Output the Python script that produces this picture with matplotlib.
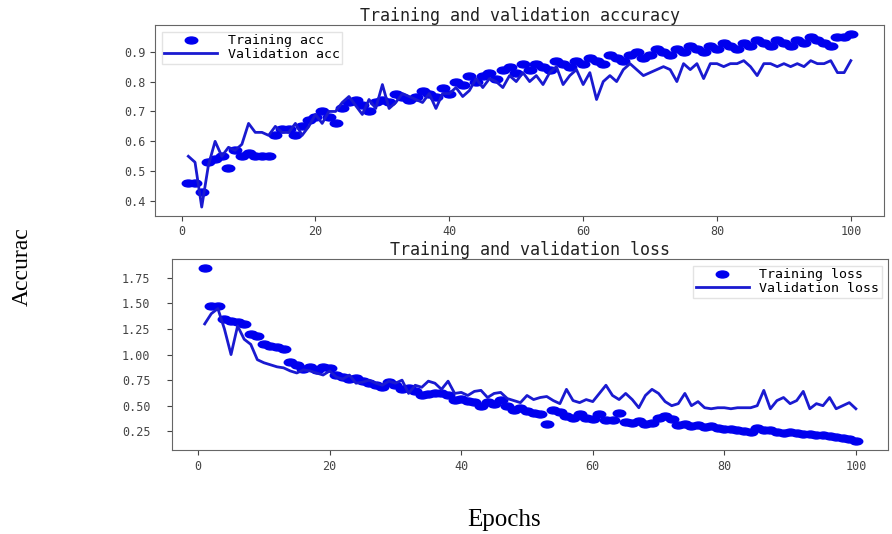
import matplotlib.pyplot as plt
from matplotlib.markers import MarkerStyle
from matplotlib.transforms import Affine2D

epochs = list(range(1, 101))

acc = [0.46, 0.46, 0.43, 0.53, 0.54, 0.55, 0.51, 0.57, 0.55, 0.56,
       0.55, 0.55, 0.55, 0.62, 0.64, 0.64, 0.62, 0.65, 0.67, 0.68,
       0.70, 0.68, 0.66, 0.71, 0.73, 0.74, 0.72, 0.70, 0.73, 0.74,
       0.73, 0.76, 0.75, 0.74, 0.75, 0.77, 0.76, 0.75, 0.78, 0.76,
       0.80, 0.79, 0.82, 0.80, 0.82, 0.83, 0.81, 0.84, 0.85, 0.83,
       0.86, 0.84, 0.86, 0.85, 0.84, 0.87, 0.86, 0.85, 0.87, 0.86,
       0.88, 0.87, 0.86, 0.89, 0.88, 0.87, 0.89, 0.90, 0.88, 0.89,
       0.91, 0.90, 0.89, 0.91, 0.90, 0.92, 0.91, 0.90, 0.92, 0.91,
       0.93, 0.92, 0.91, 0.93, 0.92, 0.94, 0.93, 0.92, 0.94, 0.93,
       0.92, 0.94, 0.93, 0.95, 0.94, 0.93, 0.92, 0.95, 0.95, 0.96]

val_acc = [0.55, 0.53, 0.38, 0.52, 0.60, 0.55, 0.58, 0.57, 0.59, 0.66,
           0.63, 0.63, 0.62, 0.65, 0.63, 0.63, 0.66, 0.62, 0.65, 0.69,
           0.66, 0.70, 0.70, 0.73, 0.75, 0.72, 0.69, 0.74, 0.71, 0.79,
           0.71, 0.73, 0.76, 0.75, 0.74, 0.73, 0.76, 0.71, 0.76, 0.76,
           0.78, 0.75, 0.77, 0.81, 0.78, 0.81, 0.80, 0.78, 0.82, 0.80,
           0.83, 0.80, 0.82, 0.79, 0.83, 0.85, 0.79, 0.82, 0.84, 0.79,
           0.83, 0.74, 0.80, 0.82, 0.80, 0.84, 0.86, 0.84, 0.82, 0.83,
           0.84, 0.85, 0.84, 0.80, 0.86, 0.84, 0.86, 0.81, 0.86, 0.86,
           0.85, 0.86, 0.86, 0.87, 0.85, 0.82, 0.86, 0.86, 0.85, 0.86,
           0.85, 0.86, 0.85, 0.87, 0.86, 0.86, 0.87, 0.83, 0.83, 0.87]

loss = [1.85, 1.48, 1.48, 1.35, 1.33, 1.32, 1.30, 1.20, 1.18, 1.10,
        1.08, 1.07, 1.05, 0.93, 0.90, 0.86, 0.88, 0.85, 0.88, 0.87,
        0.80, 0.78, 0.76, 0.77, 0.74, 0.72, 0.70, 0.68, 0.73, 0.70,
        0.66, 0.67, 0.64, 0.60, 0.61, 0.62, 0.62, 0.60, 0.56, 0.57,
        0.55, 0.54, 0.50, 0.54, 0.52, 0.56, 0.50, 0.46, 0.48, 0.45,
        0.43, 0.42, 0.32, 0.46, 0.44, 0.40, 0.38, 0.42, 0.38, 0.37,
        0.42, 0.36, 0.36, 0.43, 0.34, 0.33, 0.35, 0.32, 0.33, 0.38,
        0.40, 0.37, 0.31, 0.32, 0.30, 0.31, 0.29, 0.30, 0.28, 0.27,
        0.27, 0.26, 0.25, 0.24, 0.28, 0.26, 0.26, 0.24, 0.23, 0.24,
        0.23, 0.22, 0.22, 0.21, 0.21, 0.20, 0.19, 0.18, 0.17, 0.15]

val_loss = [1.30, 1.40, 1.45, 1.25, 1.00, 1.28, 1.15, 1.10, 0.95, 0.92,
            0.90, 0.88, 0.87, 0.84, 0.82, 0.85, 0.84, 0.82, 0.80, 0.84,
            0.78, 0.76, 0.80, 0.72, 0.73, 0.75, 0.72, 0.70, 0.74, 0.72,
            0.75, 0.62, 0.70, 0.68, 0.74, 0.72, 0.66, 0.74, 0.62, 0.63,
            0.60, 0.64, 0.65, 0.58, 0.62, 0.63, 0.57, 0.55, 0.53, 0.60,
            0.56, 0.58, 0.59, 0.55, 0.52, 0.66, 0.55, 0.53, 0.56, 0.54,
            0.62, 0.70, 0.60, 0.56, 0.62, 0.56, 0.48, 0.60, 0.66, 0.62,
            0.54, 0.50, 0.52, 0.62, 0.50, 0.54, 0.48, 0.47, 0.48, 0.48,
            0.47, 0.48, 0.48, 0.48, 0.50, 0.65, 0.47, 0.55, 0.58, 0.52,
            0.55, 0.64, 0.47, 0.52, 0.50, 0.58, 0.47, 0.50, 0.53, 0.47]

# stretched dots like in the original picture
dot = MarkerStyle('o', transform=Affine2D().scale(1.8, 1.0))
mono = 'DejaVu Sans Mono'

fig = plt.figure(figsize=(8.92, 5.34), dpi=100)

ax1 = fig.add_axes([0.174, 0.596, 0.817, 0.357])
ax1.plot(epochs, acc, color='#0000ee', linestyle='none', marker=dot, markersize=5, label='Training acc')
ax1.plot(epochs, val_acc, color='#1a1ad0', linewidth=2, label='Validation acc')
ax1.set_title('Training and validation accuracy', fontsize=12, family=mono, pad=2, color='#222222')
ax1.legend(loc='upper left', prop={'family': mono, 'size': 9.5}, borderpad=0.2,
           labelspacing=0.05, handlelength=4, edgecolor='#dddddd', fancybox=False)

ax2 = fig.add_axes([0.193, 0.157, 0.803, 0.358])
ax2.plot(epochs, loss, color='#0000ee', linestyle='none', marker=dot, markersize=5, label='Training loss')
ax2.plot(epochs, val_loss, color='#1a1ad0', linewidth=2, label='Validation loss')
ax2.set_title('Training and validation loss', fontsize=12, family=mono, pad=2, color='#222222')
ax2.set_yticks([0.25, 0.5, 0.75, 1.0, 1.25, 1.5, 1.75])
ax2.legend(loc='upper right', prop={'family': mono, 'size': 9.5}, borderpad=0.2,
           labelspacing=0.05, handlelength=4, edgecolor='#dddddd', fancybox=False)
ax2.tick_params(axis='y', pad=12)

for ax in (ax1, ax2):
    ax.tick_params(labelsize=8.5, colors='#444444')
    for lab in ax.get_xticklabels() + ax.get_yticklabels():
        lab.set_family(mono)
    for s in ax.spines.values():
        s.set_color('#666666')

fig.text(0.025, 0.5, 'Accurac', rotation=90, va='center', ha='center',
         family='Liberation Serif', fontsize=17)
fig.text(0.565, 0.027, 'Epochs', va='center', ha='center',
         family='Liberation Serif', fontsize=18)

fig.savefig('out.png', dpi=100)
